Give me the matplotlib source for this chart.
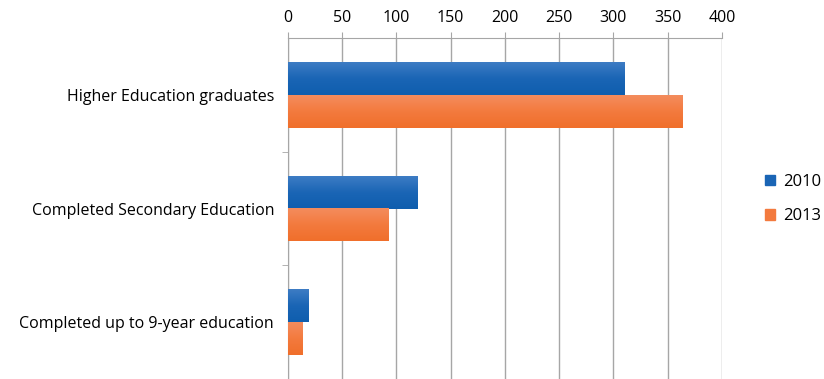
import numpy as np
import matplotlib.pyplot as plt
from matplotlib.colors import LinearSegmentedColormap

categories = ["Higher Education graduates",
              "Completed Secondary Education",
              "Completed up to 9-year education"]
years = ["2010", "2013"]
values_2010 = [310, 119, 19]
values_2013 = [364, 93, 13]

plt.rcParams['font.family'] = ['Open Sans', 'DejaVu Sans']

fig = plt.figure(figsize=(8.24, 3.79), dpi=100)
ax = fig.add_axes([0.3495, 0.0, 0.5265, 0.8997])

grey = "#a6a6a6"
blue_map = LinearSegmentedColormap.from_list("b", ["#3d7cc4", "#1a65b5", "#0f5eae"])
orange_map = LinearSegmentedColormap.from_list("o", ["#f48c5d", "#f37a3e", "#f06f2b"])

y = np.arange(len(categories))
h = 0.29


def gradient_bars(bars, cmap):
    # paint each bar with a vertical gradient, lighter at the top
    grad = np.linspace(0, 1, 64).reshape(-1, 1)
    for b in bars:
        x0, y0 = b.get_x(), b.get_y()
        w, hh = b.get_width(), b.get_height()
        ax.imshow(grad, cmap=cmap, aspect="auto", origin="upper",
                  extent=[x0, x0 + w, y0 + hh, y0], zorder=3)
        b.set_visible(False)


b1 = ax.barh(y - h / 2, values_2010, height=h, color="#1a65b5", label=years[0])
b2 = ax.barh(y + h / 2, values_2013, height=h, color="#f37a3e", label=years[1])
gradient_bars(b1, blue_map)
gradient_bars(b2, orange_map)

ax.set_xlim(0, 400)
ax.set_ylim(2.5, -0.5)
ax.set_xticks(np.arange(0, 401, 50))
ax.xaxis.tick_top()
ax.tick_params(axis="x", length=4, color=grey, labelsize=11.5, pad=5)
ax.grid(axis="x", color=grey, linewidth=1, zorder=0)
ax.set_axisbelow(True)

ax.set_yticks(y)
ax.set_yticklabels(categories, fontsize=11.5)
ax.set_yticks([0.5, 1.5], minor=True)
ax.tick_params(axis="y", which="major", length=0, pad=10)
ax.tick_params(axis="y", which="minor", length=4, color=grey)

for s in ["right", "bottom"]:
    ax.spines[s].set_visible(False)
ax.spines["top"].set_color(grey)
ax.spines["left"].set_color(grey)

h1 = plt.Rectangle((0, 0), 1, 1, color="#1a65b5")
h2 = plt.Rectangle((0, 0), 1, 1, color="#f37a3e")
fig.legend([h1, h2], years, loc="center left", bbox_to_anchor=(0.929, 0.475),
           frameon=False, fontsize=12, handlelength=0.6, handleheight=0.6,
           handletextpad=0.45, labelspacing=1.1, borderpad=0, borderaxespad=0)

fig.savefig("out.png", dpi=100)
